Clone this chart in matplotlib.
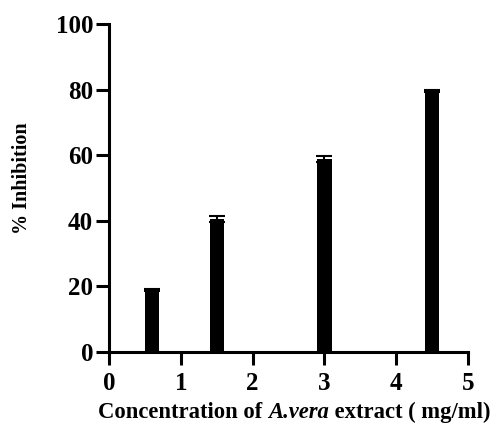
import matplotlib
matplotlib.use("Agg")
import matplotlib.pyplot as plt
from matplotlib.offsetbox import TextArea, HPacker, AnchoredOffsetbox

concentration = [0.6, 1.5, 3.0, 4.5]
inhibition = [19.0, 40.5, 58.8, 79.6]
errors = [0.3, 0.9, 0.9, 0.3]
x_ticks = [0, 1, 2, 3, 4, 5]
y_ticks = [0, 20, 40, 60, 80, 100]

plt.rcParams['font.family'] = ['Liberation Serif']
plt.rcParams['font.weight'] = 'bold'

W, H = 496, 428
fig = plt.figure(figsize=(W/100, H/100), dpi=100)
ax = fig.add_axes([109/W, 1-352/H, (468-109)/W, (352-24)/H])

ax.bar(concentration, inhibition, width=0.2, color='black', zorder=2)
ax.errorbar(concentration, inhibition, yerr=errors, fmt='none', ecolor='black',
            elinewidth=1.5, capsize=5.6, capthick=1.5, zorder=3)

ax.set_xlim(0, 5)
ax.set_ylim(0, 100)
ax.set_xticks(x_ticks)
ax.set_yticks(y_ticks)
for s in ['top', 'right']:
    ax.spines[s].set_visible(False)
for s in ['left', 'bottom']:
    ax.spines[s].set_linewidth(2.2)
ax.tick_params(axis='both', width=2.2, length=9.5, labelsize=18)
ax.tick_params(axis='y', pad=2)
ax.tick_params(axis='x', pad=5)
for lab in ax.get_xticklabels() + ax.get_yticklabels():
    lab.set_fontweight('bold')

fig.text(22/W, 1-178.5/H, '% Inhibition', rotation=90, ha='center', va='center',
         fontsize=14.5, fontweight='bold')

fs = 16.3
parts = [
    TextArea('Concentration of ', textprops=dict(fontsize=fs, fontweight='bold')),
    TextArea('A.vera', textprops=dict(fontsize=fs, fontweight='bold', fontstyle='italic')),
    TextArea(' extract ( mg/ml)', textprops=dict(fontsize=fs, fontweight='bold')),
]
box = HPacker(children=parts, align='baseline', pad=0, sep=0)
anchored = AnchoredOffsetbox(loc='center', child=box, pad=0, borderpad=0, frameon=False,
                             bbox_to_anchor=(294/W, 1-412/H), bbox_transform=fig.transFigure)
fig.add_artist(anchored)

fig.savefig('out.png', dpi=100)
